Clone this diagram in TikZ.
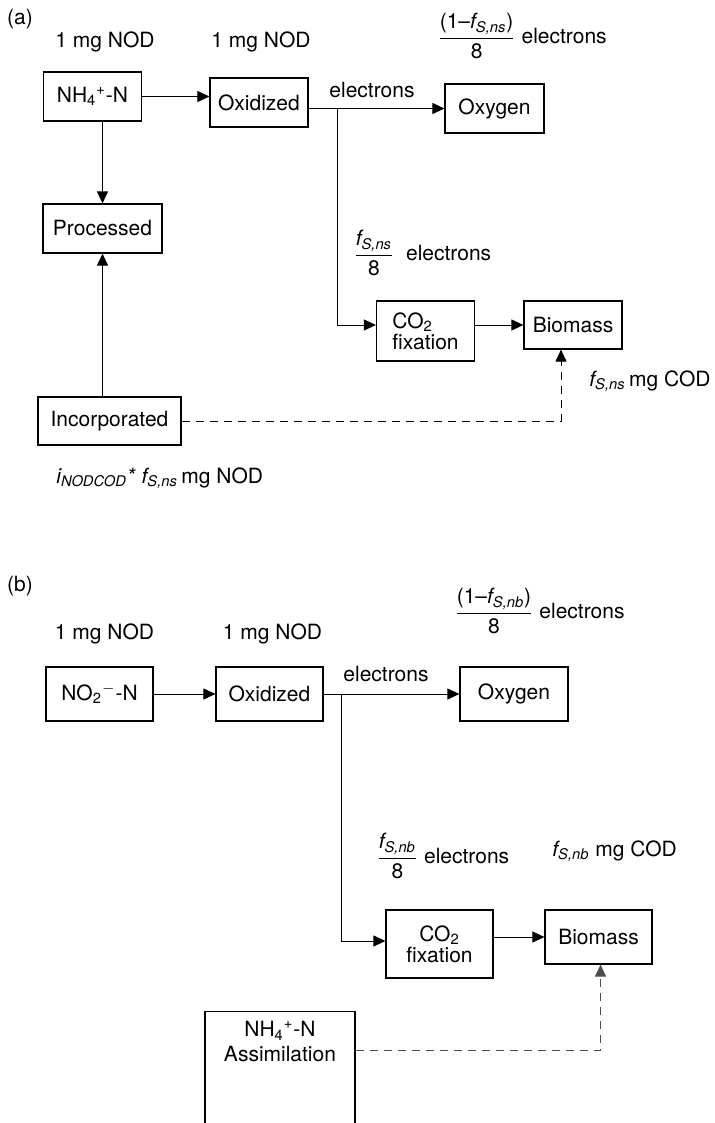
\documentclass[tikz,border=0pt]{standalone}
\usepackage{fontspec}
\setmainfont{TeX Gyre Heros}
\usepackage{amsmath}
\usetikzlibrary{arrows.meta}

% italic f with an italic subscript
\newcommand{\fsub}[1]{\textit{f}_{\textit{#1}}}

\begin{document}
\begin{tikzpicture}[x=0.5pt,y=-0.5pt,
  font=\fontsize{10.5}{12.5}\selectfont,
  box/.style={draw,line width=0.6pt,minimum width=49pt,minimum height=24.5pt,inner sep=2pt},
  bigbox/.style={box,minimum width=53.5pt,minimum height=27pt},
  arr/.style={line width=0.5pt,-{Triangle[length=6pt,width=5.5pt]}},
  dsh/.style={arr,dash pattern=on 4pt off 3pt},
  lbl/.style={inner sep=0pt}]
\useasboundingbox (0,0) rectangle (714,1123);

\foreach \x/\y/\n in {105/42/a1,261/42/a2,104.5/634/b1,272.5/634/b2}
  \node[lbl] (nod\n) at (\x,\y) {1 mg NOD};

% (a) ammonia oxidation
\node[lbl] (tagA) at (20,19) {(a)};
\node[box] (nh4A) at (92.5,96.5) {NH\textsubscript{4}\textsuperscript{+}-N};
\node[box] (oxdA) at (259,102.5) {Oxidized};
\node[box,minimum width=49.5pt] (oxyA) at (494.5,108.5) {Oxygen};
\node[box,minimum width=59.5pt] (prcA) at (102.5,228.5) {Processed};
\node[box,minimum width=71.5pt,minimum height=24pt] (incA) at (109.5,421) {Incorporated};
\node[box,minimum height=30pt,align=left] (co2A) at (425.5,331) {CO\textsubscript{2}\\[-2pt]fixation};
\node[box,minimum height=24pt] (bioA) at (573,325) {Biomass};
\coordinate (brA) at (337,109);

\node[lbl] (eA) at (372,90) {electrons};
\node[lbl,anchor=west] (feA) at (437,36)
  {$\displaystyle\frac{\text{(1–}\fsub{S,ns}\text{)}}{\text{8}}$ electrons};
\node[lbl,anchor=west] (fmA) at (353,253)
  {$\displaystyle\frac{\fsub{S,ns}}{\text{8}}$\ \ electrons};
\node[lbl,anchor=west] (codA) at (589,381) {$\fsub{S,ns}$\,mg COD};
\node[lbl,anchor=west] (nodI) at (56,478)
  {$\textit{i}_{\textit{NODCOD}}$\textit{*} $\fsub{S,ns}$\,mg NOD};

\draw[arr] (nh4A) -- (nh4A -| oxdA.west);
\draw[arr] (oxdA.east |- oxyA) -- (oxyA.west);
\draw[arr] (brA) |- ([yshift=3pt]co2A.west);
\draw[arr] (co2A.east |- bioA) -- (bioA.west);
\draw[arr] (nh4A.south -| prcA) -- (prcA.north);
\draw[arr] (incA.north -| prcA) -- (prcA.south);
\draw[dsh] (incA.east) -| ([xshift=-6pt]bioA.south);

% (b) nitrite oxidation
\node[lbl] (tagB) at (20,586) {(b)};
\node[bigbox] (no2B) at (99.5,694) {NO\textsubscript{2}\textsuperscript{$-$}-N};
\node[bigbox] (oxdB) at (269.5,694) {Oxidized};
\node[bigbox,minimum width=54pt] (oxyB) at (514,694) {Oxygen};
\node[bigbox,minimum height=34pt,align=center] (co2B) at (439.5,944) {CO\textsubscript{2}\\[-2pt]fixation};
\node[bigbox] (bioB) at (598.5,937) {Biomass};
\node[box,minimum width=75pt,anchor=north,align=center,inner ysep=5pt,text depth=38pt]
  (asmB) at (280,1011) {NH\textsubscript{4}\textsuperscript{+}-N\\Assimilation};
\coordinate (brB) at (341,694);

\node[lbl] (eB) at (386,674) {electrons};
\node[lbl,anchor=west] (feB) at (454,611)
  {$\displaystyle\frac{\text{(1–}\fsub{S,nb}\text{)}}{\text{8}}$ electrons};
\node[lbl,anchor=west] (fmB) at (376,856)
  {$\displaystyle\frac{\fsub{S,nb}}{\text{8}}$ electrons};
\node[lbl,anchor=west] (codB) at (552,851) {$\fsub{S,nb}$ mg COD};

\draw[arr] (no2B.east) -- (oxdB.west);
\draw[arr] (oxdB.east) -- (oxyB.west);
\draw[arr] (brB) |- ([yshift=1.5pt]co2B.west);
\draw[arr] (co2B.east |- bioB) -- (bioB.west);
\draw[dsh,black!70] ([yshift=-19.5pt]asmB.north east) -| ([xshift=1pt]bioB.south);
\end{tikzpicture}
\end{document}
